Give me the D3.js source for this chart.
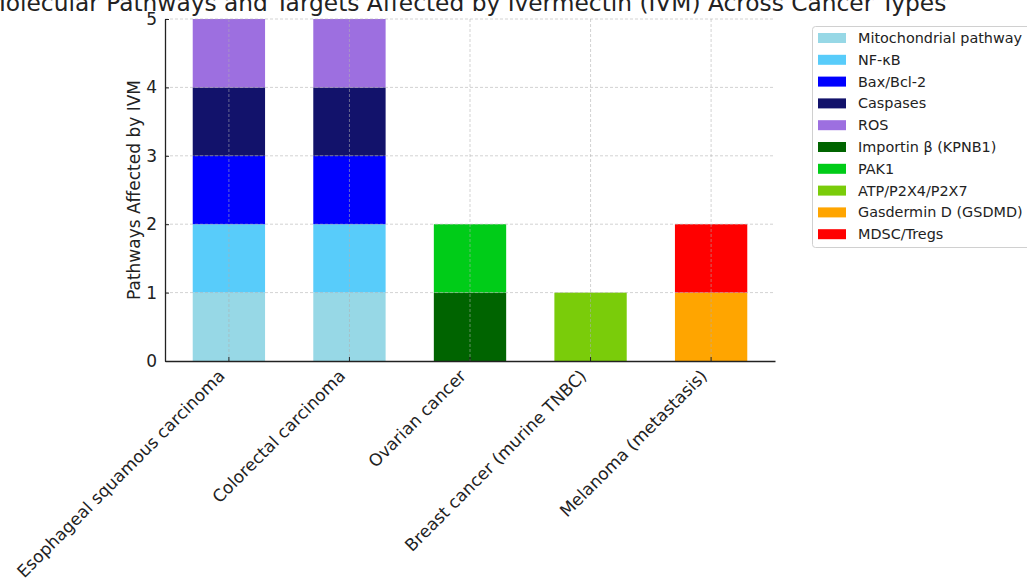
<!DOCTYPE html>
<html>
<head>
<meta charset="utf-8">
<script src="https://cdn.jsdelivr.net/npm/d3@7"></script>
<style>
  html, body { margin: 0; padding: 0; background: #fff; }
  svg { display: block; font-family: "DejaVu Sans", sans-serif; }
</style>
</head>
<body>
<svg id="chart" width="1027" height="580"></svg>
<script>
// Cancer types on the x axis
const cancerTypes = [
  "Esophageal squamous carcinoma",
  "Colorectal carcinoma",
  "Ovarian cancer",
  "Breast cancer (murine TNBC)",
  "Melanoma (metastasis)"
];

// Pathways / targets (stack order, bottom to top)
const pathways = [
  "Mitochondrial pathway",
  "NF-κB",
  "Bax/Bcl-2",
  "Caspases",
  "ROS",
  "Importin β (KPNB1)",
  "PAK1",
  "ATP/P2X4/P2X7",
  "Gasdermin D (GSDMD)",
  "MDSC/Tregs"
];

const pathwayColors = [
  "#97d8e6", "#58ccfa", "#0000ff", "#12126b", "#9d6fe0",
  "#006400", "#00cc18", "#7acc0a", "#ffa500", "#ff0000"
];

// Involvement of each pathway per cancer type (one array per pathway)
const mitochondrial = [1, 1, 0, 0, 0];
const nfkb          = [1, 1, 0, 0, 0];
const baxBcl2       = [1, 1, 0, 0, 0];
const caspases      = [1, 1, 0, 0, 0];
const ros           = [1, 1, 0, 0, 0];
const importinB     = [0, 0, 1, 0, 0];
const pak1          = [0, 0, 1, 0, 0];
const atpP2x        = [0, 0, 0, 1, 0];
const gasderminD    = [0, 0, 0, 0, 1];
const mdscTregs     = [0, 0, 0, 0, 1];

const seriesValues = [mitochondrial, nfkb, baxBcl2, caspases, ros,
                      importinB, pak1, atpP2x, gasderminD, mdscTregs];

const yTicks = [0, 1, 2, 3, 4, 5];

const titleText = "Molecular Pathways and Targets Affected by Ivermectin (IVM) Across Cancer Types";
const yLabelText = "Pathways Affected by IVM";

// Build table rows for d3.stack
const rows = cancerTypes.map((c, i) => {
  const r = { type: c };
  pathways.forEach((p, k) => { r[p] = seriesValues[k][i]; });
  return r;
});

const svg = d3.select("#chart");
const plot = { left: 165, right: 775, top: 19, bottom: 361 };

const x = d3.scaleBand()
  .domain(cancerTypes)
  .range([plot.left, plot.right])
  .paddingInner(0.4)
  .paddingOuter(0.23);

const y = d3.scaleLinear()
  .domain([0, 5])
  .range([plot.bottom, plot.top]);

const color = d3.scaleOrdinal().domain(pathways).range(pathwayColors);

const stacked = d3.stack().keys(pathways)(rows);

// Bars
const g = svg.append("g");
stacked.forEach(layer => {
  g.selectAll(null)
    .data(layer.filter(d => d[1] - d[0] > 0))
    .enter().append("rect")
    .attr("x", d => x(d.data.type))
    .attr("width", x.bandwidth())
    .attr("y", d => y(d[1]))
    .attr("height", d => y(d[0]) - y(d[1]))
    .attr("fill", color(layer.key));
});

// Grid lines (drawn over the bars)
const grid = svg.append("g")
  .attr("stroke", "#b0b0b0")
  .attr("stroke-width", 0.8)
  .attr("stroke-dasharray", "3,2")
  .attr("stroke-opacity", 0.7);
grid.selectAll(null).data(yTicks.filter(t => t > 0)).enter().append("line")
  .attr("x1", plot.left).attr("x2", plot.right)
  .attr("y1", d => y(d)).attr("y2", d => y(d));
grid.selectAll(null).data(cancerTypes).enter().append("line")
  .attr("x1", d => x(d) + x.bandwidth() / 2).attr("x2", d => x(d) + x.bandwidth() / 2)
  .attr("y1", plot.top).attr("y2", plot.bottom);

// Axes
const yAxis = d3.axisLeft(y).tickValues(yTicks).tickFormat(d3.format("d"))
  .tickSizeInner(-4).tickSizeOuter(0).tickPadding(8);
const yG = svg.append("g").attr("transform", `translate(${plot.left},0)`).call(yAxis);
yG.select(".domain").attr("stroke", "#222").attr("stroke-width", 1.3);
yG.selectAll(".tick line").attr("stroke", "#222");
yG.selectAll("text").attr("font-size", 17).attr("fill", "#222")
  .attr("font-family", "DejaVu Sans, sans-serif");

const xAxis = d3.axisBottom(x).tickSizeInner(-4).tickSizeOuter(0).tickPadding(8);
const xG = svg.append("g").attr("transform", `translate(0,${plot.bottom})`).call(xAxis);
xG.select(".domain").attr("stroke", "#222").attr("stroke-width", 1.3);
xG.selectAll(".tick line").attr("stroke", "#222");
xG.selectAll("text")
  .attr("font-size", 17).attr("fill", "#222")
  .attr("font-family", "DejaVu Sans, sans-serif")
  .attr("text-anchor", "end")
  .attr("x", 0).attr("y", 0).attr("dy", 0)
  .attr("transform", "translate(-3,16) rotate(-45)");

// Y label
svg.append("text")
  .attr("transform", `translate(140,${(plot.top + plot.bottom) / 2}) rotate(-90)`)
  .attr("text-anchor", "middle")
  .attr("font-size", 17).attr("fill", "#222")
  .text(yLabelText);

// Title
svg.append("text")
  .attr("x", (plot.left + plot.right) / 2 - 4)
  .attr("y", 11)
  .attr("text-anchor", "middle")
  .attr("font-size", 23.3).attr("fill", "#222")
  .text(titleText);

// Legend
const lg = svg.append("g").attr("transform", "translate(812,26)");
lg.append("rect")
  .attr("x", 0.5).attr("y", 0.5).attr("width", 240).attr("height", 221)
  .attr("rx", 3).attr("fill", "#fff").attr("stroke", "#d0d0d0");
const item = lg.selectAll(null).data(pathways).enter().append("g")
  .attr("transform", (d, i) => `translate(0,${12 + i * 21.8})`);
item.append("rect")
  .attr("x", 6).attr("y", -5).attr("width", 28).attr("height", 10)
  .attr("fill", d => color(d));
item.append("text")
  .attr("x", 46).attr("y", 0).attr("dy", "0.35em")
  .attr("font-size", 14.4).attr("fill", "#222")
  .text(d => d);
</script>
</body>
</html>
